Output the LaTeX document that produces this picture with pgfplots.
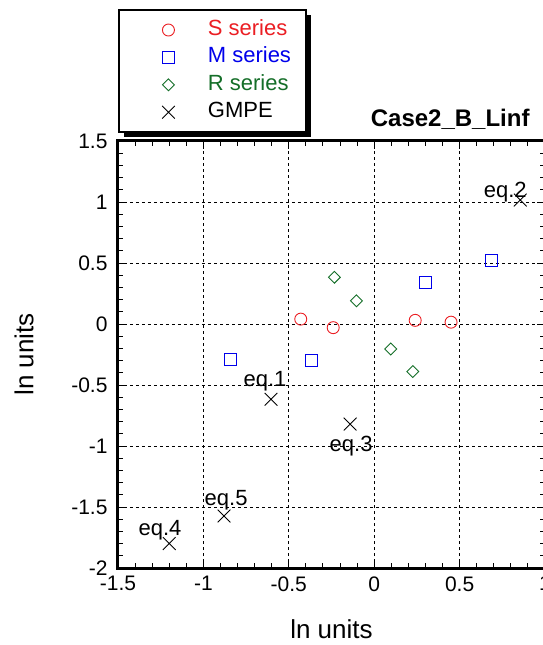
\documentclass[border=0pt]{standalone}
\usepackage{pgfplots}
\pgfplotsset{compat=1.18}
\usepackage{fontspec}
\setmainfont{Liberation Sans}
\usetikzlibrary{shadows}
\definecolor{sred}{RGB}{235,30,35}
\definecolor{mblue}{RGB}{0,0,235}
\definecolor{rgreen}{RGB}{20,110,40}
\begin{document}
\begin{tikzpicture}
\useasboundingbox (-118pt,-77pt) rectangle (425pt,568pt);
\begin{axis}[
  name=ax,
  scale only axis, width=427pt, height=427pt,
  xmin=-1.5, xmax=1, ymin=-2, ymax=1.5,
  xtick={-1.5,-1,...,1}, ytick={-2,-1.5,...,1.5},
  minor tick num=4,
  tick align=inside,
  major tick length=8pt, minor tick length=5pt,
  tick style={black, line width=1pt},
  grid=major,
  major grid style={black, line width=0.9pt, dash pattern=on 3pt off 3pt},
  ticklabel style={font=\fontsize{21}{25}\selectfont},
  xticklabel style={yshift=-5pt},
  yticklabel style={xshift=-7pt},
  /pgf/number format/assume math mode=true,
  xlabel={ln units}, ylabel={ln units},
  label style={font=\fontsize{26}{30}\selectfont},
  xlabel style={at={(axis description cs:0.5,-0.1429)}, anchor=center},
  ylabel style={at={(axis description cs:-0.220,0.5)}, anchor=center},
  title={Case2\_B\_Linf},
  title style={at={(axis description cs:0.778,1.037)}, anchor=center,
    font=\bfseries\fontsize{24}{28}\selectfont},
  legend cell align=left,
  legend style={at={(axis description cs:0,1.3091)}, anchor=north west,
    draw=black, line width=2pt, fill=white, inner xsep=15pt, inner ysep=7pt,
    font=\fontsize{22}{26}\selectfont, row sep=1.4pt,
    nodes={inner xsep=0pt, inner ysep=2.5pt, text height=16pt, text depth=5pt},
    drop shadow={shadow xshift=5pt, shadow yshift=-5pt, fill=black, opacity=1},
    /tikz/every odd column/.append style={column sep=31pt}},
  legend image code/.code={\path (-34pt,0pt) (8pt,0pt); \draw[#1] plot coordinates {(0pt,0pt)};},
]
\addplot[only marks, sred, line width=0.9pt, mark=o, mark size=6pt] coordinates {
  (-0.43,0.04) (-0.24,-0.03) (0.24,0.03) (0.45,0.015)};
\addlegendentry[text=sred]{S series}
\addplot[only marks, mblue, line width=0.9pt, mark=square, mark size=6pt] coordinates {
  (-0.84,-0.29) (-0.365,-0.295) (0.30,0.34) (0.685,0.525)};
\addlegendentry[text=mblue]{M series}
\addplot[only marks, rgreen, line width=0.9pt, mark=square, mark size=4.2pt, mark options={rotate=45}] coordinates {
  (-0.233,0.383) (-0.104,0.19) (0.097,-0.205) (0.226,-0.39)};
\addlegendentry[text=rgreen]{R series}
\addplot[only marks, black, line width=0.9pt, mark=x, mark size=9pt] coordinates {
  (-0.604,-0.617) (0.855,1.016) (-0.141,-0.82) (-1.2,-1.80) (-0.879,-1.574)};
\addlegendentry[text=black]{GMPE}
\begin{scope}[font=\fontsize{22}{26}\selectfont]
\node at (axis cs:-0.639,-0.467) {eq.1};
\node at (axis cs:0.767,1.082) {eq.2};
\node at (axis cs:-0.135,-1.0) {eq.3};
\node at (axis cs:-1.254,-1.689) {eq.4};
\node at (axis cs:-0.867,-1.443) {eq.5};
\end{scope}
\end{axis}
% heavy frame round the plot area
\draw[line width=3pt] (ax.south west) rectangle (ax.north east);
\end{tikzpicture}
\end{document}
